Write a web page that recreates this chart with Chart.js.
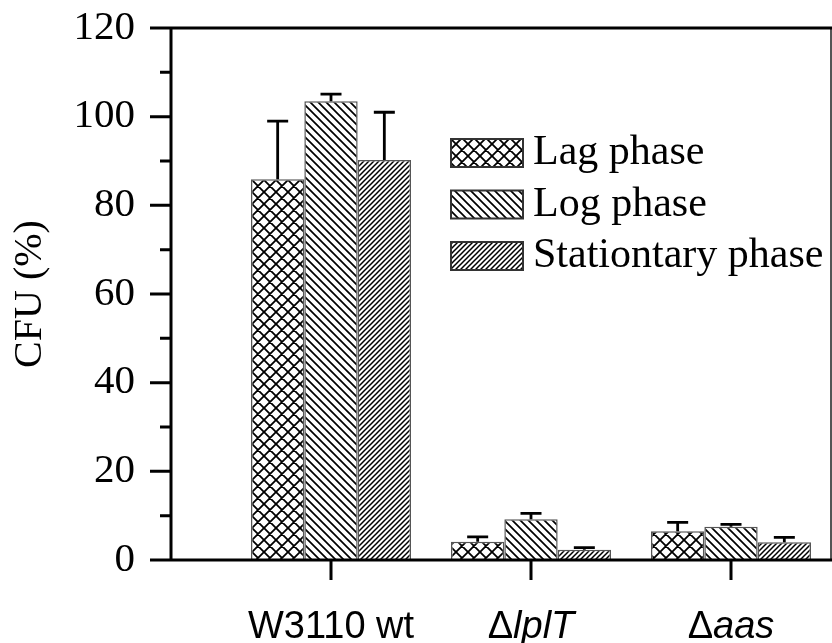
<!DOCTYPE html>
<html>
<head>
<meta charset="utf-8">
<script src="https://cdn.jsdelivr.net/npm/chart.js@4.4.1/dist/chart.umd.min.js"></script>
<style>
  html, body { margin: 0; padding: 0; background: #fff; }
  #wrap { width: 832px; height: 643px; }
</style>
</head>
<body>
<div id="wrap"><canvas id="cfuChart" width="832" height="643"></canvas></div>
<script>
// data
var categories = ['W3110 wt', 'ΔlplT', 'Δaas'];
var xPositions = [1, 2, 3];
var seriesNames = ['Lag phase', 'Log phase', 'Stationtary phase'];
var lagValues = [85.9, 4.1, 6.5];
var logValues = [103.5, 9.2, 7.5];
var statValues = [90.2, 2.3, 4.0];
var lagErrors = [13.1, 1.1, 2.0];
var logErrors = [1.6, 1.3, 0.55];
var statErrors = [10.8, 0.5, 1.1];
var yMajorTicks = [0, 20, 40, 60, 80, 100, 120];
var yMinorTicks = [10, 30, 50, 70, 90, 110];

function makePattern(kind, size, lw) {
  var c = document.createElement('canvas');
  c.width = size; c.height = size;
  var g = c.getContext('2d');
  g.fillStyle = '#fff';
  g.fillRect(0, 0, size, size);
  g.strokeStyle = '#000';
  g.lineWidth = lw;
  g.beginPath();
  if (kind === 'cross' || kind === 'back') {
    g.moveTo(-2, -2); g.lineTo(size + 2, size + 2);
    g.moveTo(size - 2, -2); g.lineTo(size + 2, 2);
    g.moveTo(-2, size - 2); g.lineTo(2, size + 2);
  }
  if (kind === 'cross' || kind === 'fwd') {
    g.moveTo(-2, size + 2); g.lineTo(size + 2, -2);
    g.moveTo(-2, 2); g.lineTo(2, -2);
    g.moveTo(size - 2, size + 2); g.lineTo(size + 2, size - 2);
  }
  g.stroke();
  return g.createPattern(c, 'repeat');
}

var patterns = [makePattern('cross', 12, 1.8), makePattern('back', 8, 1.7), makePattern('fwd', 5, 1.5)];
var seriesValues = [lagValues, logValues, statValues];
var seriesErrors = [lagErrors, logErrors, statErrors];

function points(vals) {
  return vals.map(function (v, i) { return { x: xPositions[i], y: v }; });
}

var frame = {
  id: 'frame',
  afterDatasetsDraw: function (chart) {
    var ctx = chart.ctx;
    var ys = chart.scales.y;
    var xs = chart.scales.x;
    var a = chart.chartArea;
    ctx.save();

    // error bars (upper only)
    ctx.strokeStyle = '#000';
    ctx.lineWidth = 2.8;
    chart.data.datasets.forEach(function (ds, di) {
      var meta = chart.getDatasetMeta(di);
      meta.data.forEach(function (bar, i) {
        var top = ys.getPixelForValue(seriesValues[di][i]);
        var end = ys.getPixelForValue(seriesValues[di][i] + seriesErrors[di][i]);
        ctx.beginPath();
        ctx.moveTo(bar.x, top); ctx.lineTo(bar.x, end);
        ctx.moveTo(bar.x - 10.5, end); ctx.lineTo(bar.x + 10.5, end);
        ctx.stroke();
      });
    });

    // frame
    ctx.strokeStyle = '#555';
    ctx.lineWidth = 2;
    ctx.beginPath();
    ctx.moveTo(a.right, a.top); ctx.lineTo(a.right, a.bottom);
    ctx.stroke();
    ctx.strokeStyle = '#000';
    ctx.lineWidth = 3;
    ctx.beginPath();
    ctx.moveTo(a.left - 21, a.top); ctx.lineTo(a.right + 1, a.top);
    ctx.moveTo(a.left, a.top); ctx.lineTo(a.left, a.bottom);
    ctx.moveTo(a.left - 21, a.bottom); ctx.lineTo(a.right + 1, a.bottom);
    yMajorTicks.forEach(function (t) {
      var p = ys.getPixelForValue(t);
      ctx.moveTo(a.left - 21, p); ctx.lineTo(a.left, p);
    });
    yMinorTicks.forEach(function (t) {
      var p = ys.getPixelForValue(t);
      ctx.moveTo(a.left - 11, p); ctx.lineTo(a.left, p);
    });
    xPositions.forEach(function (t) {
      var p = xs.getPixelForValue(t);
      ctx.moveTo(p, a.bottom); ctx.lineTo(p, a.bottom + 20);
    });
    ctx.stroke();

    // category labels, gene names in italics
    ctx.fillStyle = '#000';
    ctx.textBaseline = 'alphabetic';
    ctx.textAlign = 'left';
    categories.forEach(function (lab, i) {
      var parts = lab.charAt(0) === 'Δ' ? [['Δ', false], [lab.slice(1), true]] : [[lab, false]];
      var w = 0;
      parts.forEach(function (p) {
        ctx.font = (p[1] ? 'italic ' : '') + '38px "Liberation Sans"';
        w += ctx.measureText(p[0]).width;
      });
      var x = xs.getPixelForValue(xPositions[i]) - w / 2;
      parts.forEach(function (p) {
        ctx.font = (p[1] ? 'italic ' : '') + '38px "Liberation Sans"';
        ctx.fillText(p[0], x, 638);
        x += ctx.measureText(p[0]).width;
      });
    });

    // legend
    ctx.font = '42px "Liberation Serif"';
    ctx.textBaseline = 'middle';
    chart.data.datasets.forEach(function (ds, di) {
      var by = 139 + di * 51.5;
      ctx.fillStyle = patterns[di];
      ctx.fillRect(451, by, 72, 28);
      ctx.strokeStyle = '#333';
      ctx.lineWidth = 2;
      ctx.strokeRect(451, by, 72, 28);
      ctx.fillStyle = '#000';
      ctx.fillText(ds.label, 533, by + 14);
    });
    ctx.restore();
  }
};

var ctx = document.getElementById('cfuChart').getContext('2d');
var cfuChart = new Chart(ctx, {
  type: 'bar',
  data: {
    datasets: seriesNames.map(function (name, i) {
      return {
        label: name,
        data: points(seriesValues[i]),
        backgroundColor: patterns[i],
        borderColor: '#555',
        borderWidth: 1.5,
        categoryPercentage: 0.8,
        barPercentage: 1.0
      };
    })
  },
  options: {
    responsive: false,
    animation: false,
    layout: { padding: { top: 28, right: 1, left: 0, bottom: 0 } },
    plugins: {
      legend: { display: false },
      tooltip: { enabled: false }
    },
    scales: {
      x: {
        type: 'linear',
        min: 0.2,
        max: 3.5,
        offset: false,
        grid: { display: false, offset: false, drawTicks: false },
        border: { display: false },
        ticks: { display: false },
        afterBuildTicks: function (scale) {
          scale.ticks = xPositions.map(function (v) { return { value: v }; });
        },
        afterFit: function (scale) {
          scale.height = 83;
          scale.paddingLeft = 0;
          scale.paddingRight = 0;
        }
      },
      y: {
        min: 0,
        max: 120,
        grid: { display: false, drawTicks: false },
        border: { display: false },
        ticks: {
          stepSize: 20,
          padding: 36,
          color: '#000',
          font: { family: 'Liberation Serif', size: 41 }
        },
        title: {
          display: true,
          text: 'CFU (%)',
          color: '#000',
          font: { family: 'Liberation Serif', size: 40 },
          padding: { top: 6, bottom: 0 }
        },
        afterFit: function (scale) {
          scale.width = 171;
          scale.paddingTop = 0;
          scale.paddingBottom = 0;
        }
      }
    }
  },
  plugins: [frame]
});
</script>
</body>
</html>
